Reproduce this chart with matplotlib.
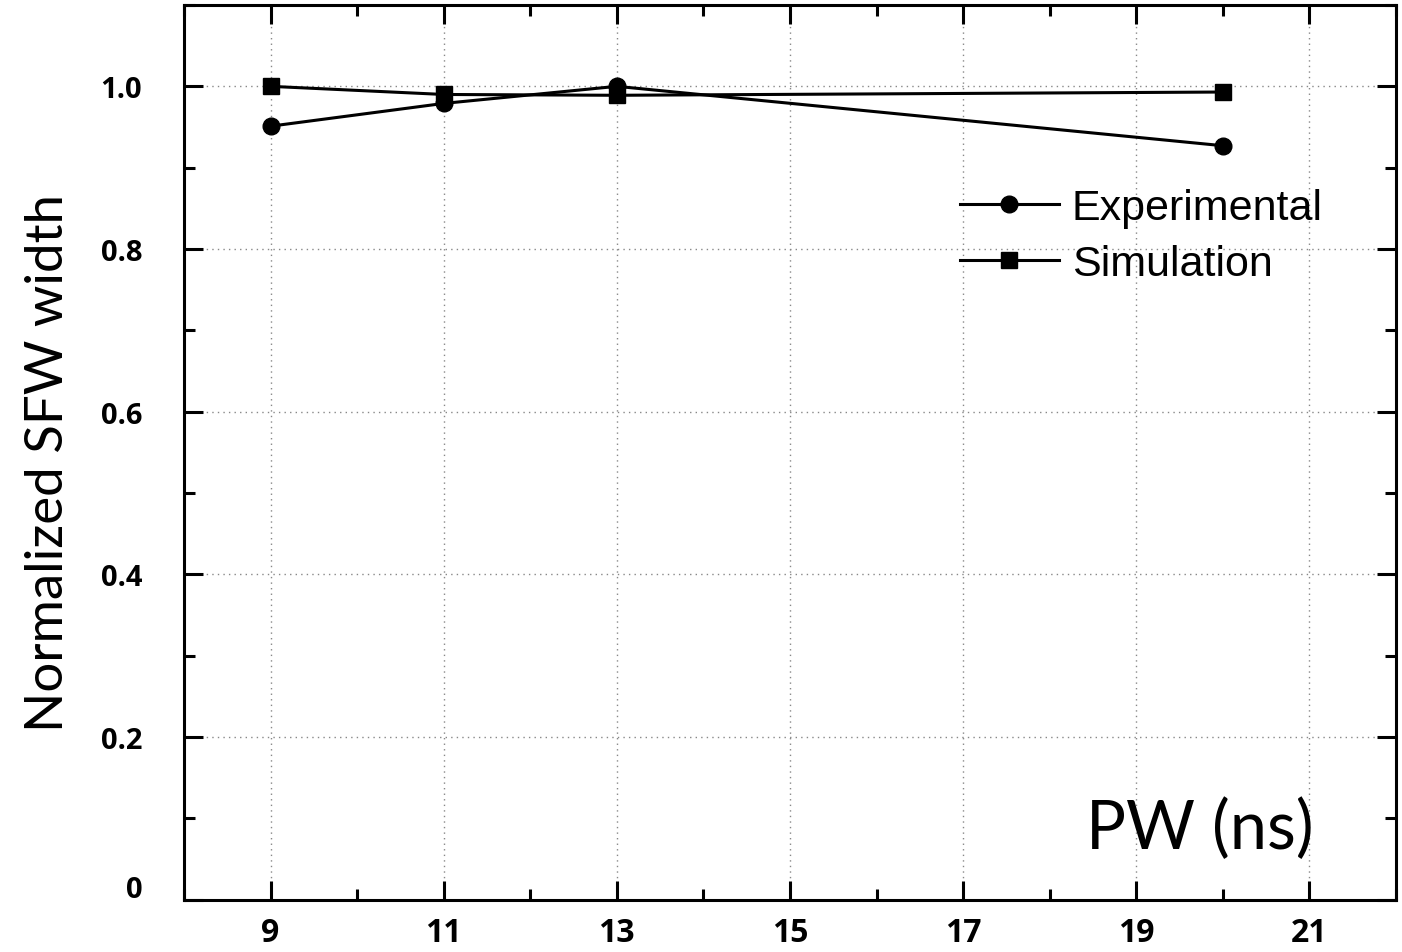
import numpy as np
import matplotlib.pyplot as plt
from matplotlib.ticker import MultipleLocator, FixedLocator
from matplotlib.transforms import ScaledTranslation

# data
pw = [9, 11, 13, 20]
experimental = [0.951, 0.979, 1.000, 0.927]
simulation = [1.000, 0.990, 0.989, 0.993]

x_ticks = [9, 11, 13, 15, 17, 19, 21]
y_ticks = [0, 0.2, 0.4, 0.6, 0.8, 1.0]
y_tick_labels = ['0', '0.2', '0.4', '0.6', '0.8', '1.0']

fig = plt.figure(figsize=(14.02, 9.53), dpi=100)
ax = fig.add_axes([0.1312, 0.0549, 0.8645, 0.9388])

ax.plot(pw, experimental, color='black', lw=2.2, marker='o', markersize=12,
        label='Experimental', zorder=3)
ax.plot(pw, simulation, color='black', lw=2.2, marker='s', markersize=11,
        label='Simulation', zorder=3)

ax.set_xlim(8, 22)
ax.set_ylim(0, 1.1)
ax.xaxis.set_major_locator(FixedLocator(x_ticks))
ax.xaxis.set_minor_locator(MultipleLocator(1))
ax.yaxis.set_major_locator(FixedLocator(y_ticks))
ax.yaxis.set_minor_locator(MultipleLocator(0.1))
ax.set_yticklabels(y_tick_labels)

for s in ax.spines.values():
    s.set_linewidth(2.2)

ax.tick_params(which='major', direction='in', length=14, width=2.2,
               top=True, right=True)
ax.tick_params(which='minor', direction='in', length=8, width=2.2,
               top=True, right=True)
ax.tick_params(axis='x', which='major', pad=12, labelsize=23)
ax.tick_params(axis='y', which='major', pad=30, labelsize=21)
for lbl in ax.get_xticklabels() + ax.get_yticklabels():
    lbl.set_fontfamily('Open Sans')
    lbl.set_fontweight('bold')

# the "0" label sits a little above the bottom spine in the original
zero_lbl = ax.get_yticklabels()[0]
zero_lbl.set_transform(zero_lbl.get_transform() +
                       ScaledTranslation(0, 0.14, fig.dpi_scale_trans))

ax.grid(True, which='major', linestyle=(0, (1, 3)), color='#888888', lw=1.0)

ax.set_ylabel('Normalized SFW width', fontsize=38, family='Lato', labelpad=20.5)
ax.yaxis.label.set_y(0.489)
ax.text(0.838, 0.058, 'PW (ns)', transform=ax.transAxes, fontsize=48,
        family='Lato', ha='center', va='baseline')

ax.legend(loc='upper left', bbox_to_anchor=(0.640, 0.795), frameon=False,
          prop={'family': 'Liberation Sans', 'size': 31},
          handlelength=2.3, handletextpad=0.3, labelspacing=0.37,
          borderaxespad=0, borderpad=0)

fig.savefig('out.png', dpi=100)
